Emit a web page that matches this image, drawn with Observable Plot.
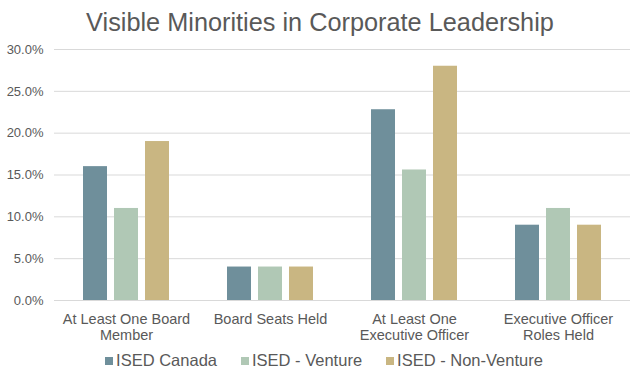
<!DOCTYPE html>
<html>
<head>
<meta charset="utf-8">
<script src="https://cdn.jsdelivr.net/npm/d3@7"></script>
<script src="https://cdn.jsdelivr.net/npm/@observablehq/plot@0.6"></script>
<style>
  body { margin: 0; background: #fff; font-family: "Liberation Sans", Arial, sans-serif; }
  #wrap { width: 640px; height: 377px; position: relative; }
  #title { height: 38px; line-height: 44px; text-align: center; font-size: 25.3px; color: #595959; }
  #legend { display: flex; justify-content: center; gap: 24px; font-size: 16.5px; line-height: 19px; color: #595959; margin-top: 3px; padding-left: 8px; }
  #legend span.sw { display: inline-block; width: 8px; height: 8px; margin-right: 3px; vertical-align: 1px; }
</style>
</head>
<body>
<div id="wrap">
  <div id="title">Visible Minorities in Corporate Leadership</div>
  <div id="chart"></div>
  <div id="legend"></div>
</div>
<script>
const categories = ["At Least One Board\nMember", "Board Seats Held", "At Least One\nExecutive Officer", "Executive Officer\nRoles Held"];
const seriesNames = ["ISED Canada", "ISED - Venture", "ISED - Non-Venture"];
const isedCanada = [16, 4, 22.8, 9];
const isedVenture = [11, 4, 15.6, 11];
const isedNonVenture = [19, 4, 28, 9];
const yTicks = [0, 5, 10, 15, 20, 25, 30];
const colors = ["#6f8f9b", "#b0c8b5", "#c9b682"];

const seriesValues = [isedCanada, isedVenture, isedNonVenture];
const data = [];
categories.forEach((c, i) => {
  seriesNames.forEach((s, j) => data.push({category: c, series: s, value: seriesValues[j][i]}));
});

const plot = Plot.plot({
  width: 640,
  height: 310,
  marginTop: 11,
  marginLeft: 53,
  marginRight: 10,
  marginBottom: 48,
  style: {fontFamily: "Liberation Sans, Arial, sans-serif", fontSize: "13px", color: "#595959"},
  fx: {domain: categories, padding: 0, label: null, axis: null},
  x: {domain: seriesNames, axis: null, paddingInner: 0.219, paddingOuter: 0.86},
  y: {domain: [0, 30], label: null, ticks: yTicks, tickFormat: d => d.toFixed(1) + "%", tickSize: 0, tickPadding: 11},
  color: {domain: seriesNames, range: colors},
  marks: [
    Plot.ruleY(yTicks, {stroke: "#d9d9d9", strokeWidth: 1}),
    Plot.barY(data, {fx: "category", x: "series", y: "value", fill: "series"}),
    Plot.axisFx({anchor: "bottom", tickSize: 0, tickPadding: 12, lineHeight: 1.1, fontSize: 14.5, label: null})
  ]
});
document.getElementById("chart").appendChild(plot);

const legend = document.getElementById("legend");
seriesNames.forEach((s, i) => {
  const item = document.createElement("div");
  item.innerHTML = `<span class="sw" style="background:${colors[i]}"></span>${s}`;
  legend.appendChild(item);
});
</script>
</body>
</html>
